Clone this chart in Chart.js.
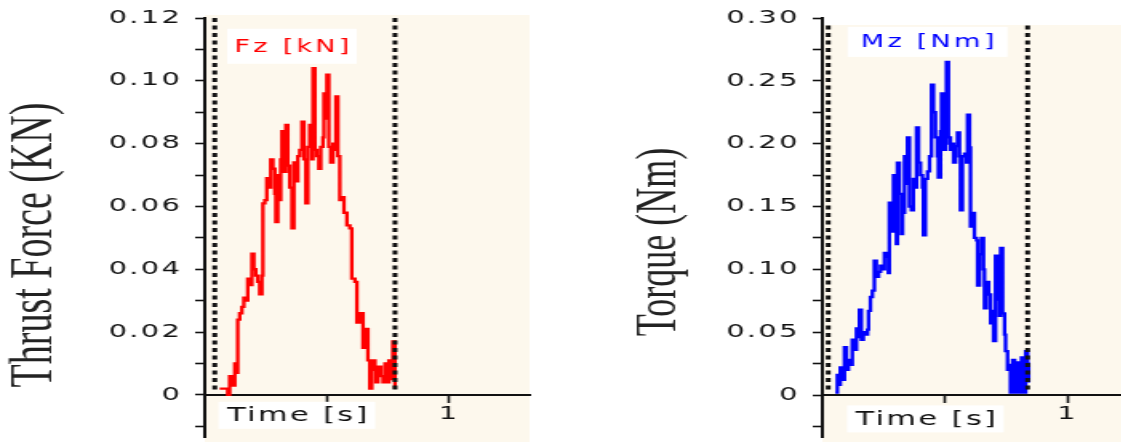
<!DOCTYPE html>
<html>
<head>
<meta charset="utf-8">
<script src="https://cdn.jsdelivr.net/npm/chart.js@4.4.1/dist/chart.umd.min.js"></script>
<style>
  html, body { margin: 0; padding: 0; background: #fff; }
  body { width: 1121px; height: 442px; position: relative; overflow: hidden; }
  /* the original figure is stretched sideways, so each panel is drawn narrow and widened */
  .panel { position: absolute; top: 0; height: 442px; transform: scaleX(1.6); transform-origin: 0 0; }
</style>
</head>
<body>
<div class="panel" style="left:0;width:350px"><canvas id="fzChart" width="350" height="442"></canvas></div>
<div class="panel" style="left:560px;width:351px"><canvas id="mzChart" width="351" height="442"></canvas></div>
<script>
// Thrust force Fz [kN] against time [s]
const fzTime = [
  0.061, 0.082, 0.094, 0.102, 0.115, 0.123, 0.131, 0.135, 0.143, 0.152,
  0.160, 0.168, 0.176, 0.184, 0.193, 0.201, 0.209, 0.217, 0.225, 0.234,
  0.238, 0.246, 0.254, 0.262, 0.270, 0.279, 0.287, 0.291, 0.299, 0.307,
  0.311, 0.316, 0.324, 0.332, 0.340, 0.348, 0.357, 0.365, 0.373, 0.381,
  0.389, 0.398, 0.406, 0.414, 0.422, 0.430, 0.439, 0.443, 0.451, 0.459,
  0.467, 0.475, 0.484, 0.488, 0.496, 0.500, 0.508, 0.516, 0.525, 0.533,
  0.537, 0.545, 0.553, 0.561, 0.570, 0.582, 0.594, 0.602, 0.615, 0.623,
  0.635, 0.648, 0.656, 0.668, 0.676, 0.684, 0.697, 0.701, 0.709, 0.721,
  0.730, 0.738, 0.746, 0.754, 0.762, 0.770, 0.779
];
const fzValue = [
  0.002, 0.002, 0.000, 0.006, 0.003, 0.010, 0.007, 0.024, 0.026, 0.028,
  0.031, 0.030, 0.037, 0.035, 0.045, 0.040, 0.038, 0.036, 0.032, 0.038,
  0.061, 0.062, 0.069, 0.066, 0.075, 0.072, 0.064, 0.055, 0.070, 0.062,
  0.075, 0.084, 0.071, 0.086, 0.073, 0.066, 0.053, 0.074, 0.068, 0.076,
  0.078, 0.087, 0.075, 0.061, 0.079, 0.086, 0.075, 0.104, 0.078, 0.076,
  0.072, 0.079, 0.082, 0.096, 0.088, 0.102, 0.079, 0.074, 0.080, 0.078,
  0.095, 0.076, 0.062, 0.063, 0.058, 0.054, 0.053, 0.037, 0.036, 0.023,
  0.026, 0.015, 0.021, 0.011, 0.002, 0.011, 0.008, 0.004, 0.009, 0.006,
  0.004, 0.010, 0.004, 0.011, 0.005, 0.017, 0.002
];

// Torque Mz [Nm] against time [s]
const mzTime = [
  0.053, 0.061, 0.069, 0.073, 0.082, 0.090, 0.098, 0.106, 0.114, 0.122,
  0.131, 0.139, 0.147, 0.151, 0.159, 0.167, 0.176, 0.184, 0.188, 0.196,
  0.204, 0.212, 0.220, 0.229, 0.237, 0.245, 0.253, 0.261, 0.269, 0.273,
  0.282, 0.290, 0.298, 0.302, 0.306, 0.314, 0.322, 0.327, 0.335, 0.343,
  0.347, 0.355, 0.363, 0.371, 0.380, 0.384, 0.392, 0.400, 0.408, 0.412,
  0.420, 0.429, 0.437, 0.445, 0.453, 0.461, 0.469, 0.473, 0.482, 0.486,
  0.494, 0.502, 0.506, 0.514, 0.522, 0.531, 0.535, 0.543, 0.551, 0.559,
  0.563, 0.571, 0.580, 0.588, 0.592, 0.600, 0.604, 0.612, 0.620, 0.629,
  0.633, 0.641, 0.649, 0.657, 0.661, 0.669, 0.678, 0.686, 0.694, 0.698,
  0.706, 0.714, 0.722, 0.727, 0.735, 0.743, 0.747, 0.755, 0.763, 0.767,
  0.776, 0.784, 0.788, 0.796, 0.800, 0.808, 0.812, 0.820, 0.829, 0.837,
  0.841
];
const mzValue = [
  0.002, 0.016, 0.008, 0.022, 0.012, 0.038, 0.020, 0.028, 0.024, 0.044,
  0.036, 0.053, 0.046, 0.068, 0.044, 0.050, 0.048, 0.052, 0.067, 0.078,
  0.083, 0.107, 0.094, 0.098, 0.103, 0.100, 0.113, 0.110, 0.097, 0.153,
  0.130, 0.175, 0.162, 0.120, 0.185, 0.160, 0.128, 0.145, 0.190, 0.168,
  0.205, 0.150, 0.147, 0.172, 0.165, 0.213, 0.185, 0.175, 0.165, 0.127,
  0.172, 0.178, 0.190, 0.247, 0.225, 0.205, 0.190, 0.173, 0.210, 0.240,
  0.195, 0.200, 0.265, 0.205, 0.195, 0.200, 0.185, 0.198, 0.209, 0.190,
  0.147, 0.190, 0.192, 0.185, 0.223, 0.197, 0.134, 0.145, 0.125, 0.123,
  0.087, 0.112, 0.125, 0.100, 0.069, 0.090, 0.080, 0.057, 0.067, 0.043,
  0.111, 0.076, 0.063, 0.117, 0.065, 0.048, 0.035, 0.020, 0.024, 0.002,
  0.028, 0.016, 0.002, 0.026, 0.002, 0.020, 0.030, 0.002, 0.035, 0.025,
  0.010
];

// dotted cursor lines (time [s])
const fzCursorTimes = [0.041, 0.779];
const mzCursorTimes = [0.024, 0.837];

// axis ticks
const xTickValues = [0.5, 1];
const xTickLabels = ["", "1"];
const fzTickValues = [0, 0.02, 0.04, 0.06, 0.08, 0.10, 0.12];
const fzTickLabels = ["0", "0.02", "0.04", "0.06", "0.08", "0.10", "0.12"];
const fzMinorTicks = [-0.01, 0.01, 0.03, 0.05, 0.07, 0.09, 0.11];
const mzTickValues = [0, 0.05, 0.10, 0.15, 0.20, 0.25, 0.30];
const mzTickLabels = ["0", "0.05", "0.10", "0.15", "0.20", "0.25", "0.30"];
const mzMinorTicks = [-0.025, 0.025, 0.075, 0.125, 0.175, 0.225, 0.275];

const AXIS = "#111";
const TICK_FONT = { family: "DejaVu Sans", size: 18 };

function labelFor(values, labels, v) {
  const i = values.findIndex(t => Math.abs(t - v) < 1e-9);
  return i < 0 ? "" : labels[i];
}

// beige plot background, white label boxes and the stretched serif axis title
const panelDecor = {
  id: "panelDecor",
  beforeDraw(chart, args, o) {
    const { ctx, chartArea: a } = chart;
    ctx.letterSpacing = "0px";
    ctx.save();
    ctx.fillStyle = "#fdf8ed";
    ctx.fillRect(a.left, o.bgTop, a.right - a.left, chart.height - o.bgTop);
    ctx.restore();
    ctx.letterSpacing = "1.5px";
  },
  afterDraw(chart, args, o) {
    const { ctx } = chart;
    const xs = chart.scales.x, ys = chart.scales.y;
    ctx.save();
    ctx.letterSpacing = "0px";
    ctx.translate(o.titleX, o.titleY);
    ctx.rotate(-Math.PI / 2);
    ctx.font = o.titleSize + 'px "Liberation Serif"';
    ctx.fillStyle = "#222";
    ctx.textAlign = "center";
    ctx.textBaseline = "middle";
    ctx.fillText(o.title, 0, 0);
    ctx.restore();
    o.boxes.forEach(b => {
      const cx = xs.getPixelForValue(b.t), cy = ys.getPixelForValue(b.v);
      ctx.save();
      ctx.fillStyle = "#fff";
      ctx.fillRect(cx - b.w / 2, cy - b.h / 2, b.w, b.h);
      ctx.letterSpacing = b.spacing;
      ctx.font = b.size + 'px "DejaVu Sans"';
      ctx.fillStyle = b.color;
      ctx.textAlign = "center";
      ctx.textBaseline = "middle";
      ctx.fillText(b.text, cx + 1, cy + 1);
      ctx.restore();
    });
  }
};

function makeChart(id, cfg) {
  const series = cfg.time.map((t, i) => ({ x: t, y: cfg.value[i] }));
  const cursors = cfg.cursorTimes.map(t => ({
    data: [{ x: t, y: cfg.cursorTop }, { x: t, y: cfg.cursorBottom }],
    borderColor: "#111",
    borderWidth: 3,
    borderDash: [4, 3.5],
    pointRadius: 0
  }));
  return new Chart(document.getElementById(id), {
    type: "line",
    data: {
      datasets: cursors.concat([{
        data: series,
        borderColor: cfg.color,
        borderWidth: 2.3,
        stepped: true,
        pointRadius: 0,
        fill: false
      }])
    },
    options: {
      responsive: false,
      animation: false,
      layout: { padding: { left: 0, right: cfg.padRight, top: 18, bottom: 5 } },
      plugins: {
        legend: { display: false },
        tooltip: { enabled: false },
        panelDecor: cfg.decor
      },
      scales: {
        x: {
          type: "linear",
          min: 0,
          max: cfg.xMax,
          position: { y: 0 },
          afterBuildTicks: s => { s.ticks = xTickValues.map(v => ({ value: v })); },
          afterFit: s => {
            s.height = 0;
            s.paddingTop = s.paddingBottom = s.paddingLeft = s.paddingRight = 0;
          },
          ticks: {
            callback: v => labelFor(xTickValues, xTickLabels, v),
            font: TICK_FONT, color: AXIS, padding: 2, maxRotation: 0, autoSkip: false
          },
          grid: { drawOnChartArea: false, tickLength: 7, tickColor: AXIS, tickWidth: 1.6 },
          border: { color: AXIS, width: 2 }
        },
        y: {
          type: "linear",
          min: cfg.yMin,
          max: cfg.yMax,
          afterBuildTicks: s => {
            s.ticks = cfg.tickValues.concat(cfg.minorTicks).sort((a, b) => a - b).map(v => ({ value: v }));
          },
          afterFit: s => {
            s.width = cfg.axisWidth;
            s.paddingTop = s.paddingBottom = 0;
          },
          ticks: {
            callback: v => labelFor(cfg.tickValues, cfg.tickLabels, v),
            font: TICK_FONT, color: AXIS, padding: 8, autoSkip: false
          },
          grid: { drawOnChartArea: false, tickLength: 6, tickColor: AXIS, tickWidth: 1.6 },
          border: { color: AXIS, width: 2 }
        }
      }
    },
    plugins: [panelDecor]
  });
}

makeChart("fzChart", {
  time: fzTime, value: fzValue, color: "#ff0000",
  cursorTimes: fzCursorTimes, cursorTop: 0.12, cursorBottom: 0.0015,
  xMax: 1.33, yMin: -0.0134, yMax: 0.12,
  tickValues: fzTickValues, tickLabels: fzTickLabels, minorTicks: fzMinorTicks,
  axisWidth: 128, padRight: 19,
  decor: {
    bgTop: 15, title: "Thrust Force (KN)", titleSize: 38, titleX: 22, titleY: 245,
    boxes: [
      { text: "Fz [kN]", t: 0.357, v: 0.111, w: 81, h: 35, size: 17, spacing: "2px", color: "#ff0000" },
      { text: "Time [s]", t: 0.377, v: -0.0065, w: 98, h: 27, size: 19, spacing: "1.5px", color: "#111" }
    ]
  }
});

makeChart("mzChart", {
  time: mzTime, value: mzValue, color: "#0000ff",
  cursorTimes: mzCursorTimes, cursorTop: 0.294, cursorBottom: 0.003,
  xMax: 1.22, yMin: -0.0334, yMax: 0.30,
  tickValues: mzTickValues, tickLabels: mzTickLabels, minorTicks: mzMinorTicks,
  axisWidth: 164, padRight: 0,
  decor: {
    bgTop: 25, title: "Torque (Nm)", titleSize: 36, titleX: 62.5, titleY: 242,
    boxes: [
      { text: "Mz [Nm]", t: 0.429, v: 0.281, w: 100, h: 30, size: 17, spacing: "2px", color: "#0000ff" },
      { text: "Time [s]", t: 0.42, v: -0.019, w: 98, h: 27, size: 19, spacing: "1.5px", color: "#111" }
    ]
  }
});
</script>
</body>
</html>
